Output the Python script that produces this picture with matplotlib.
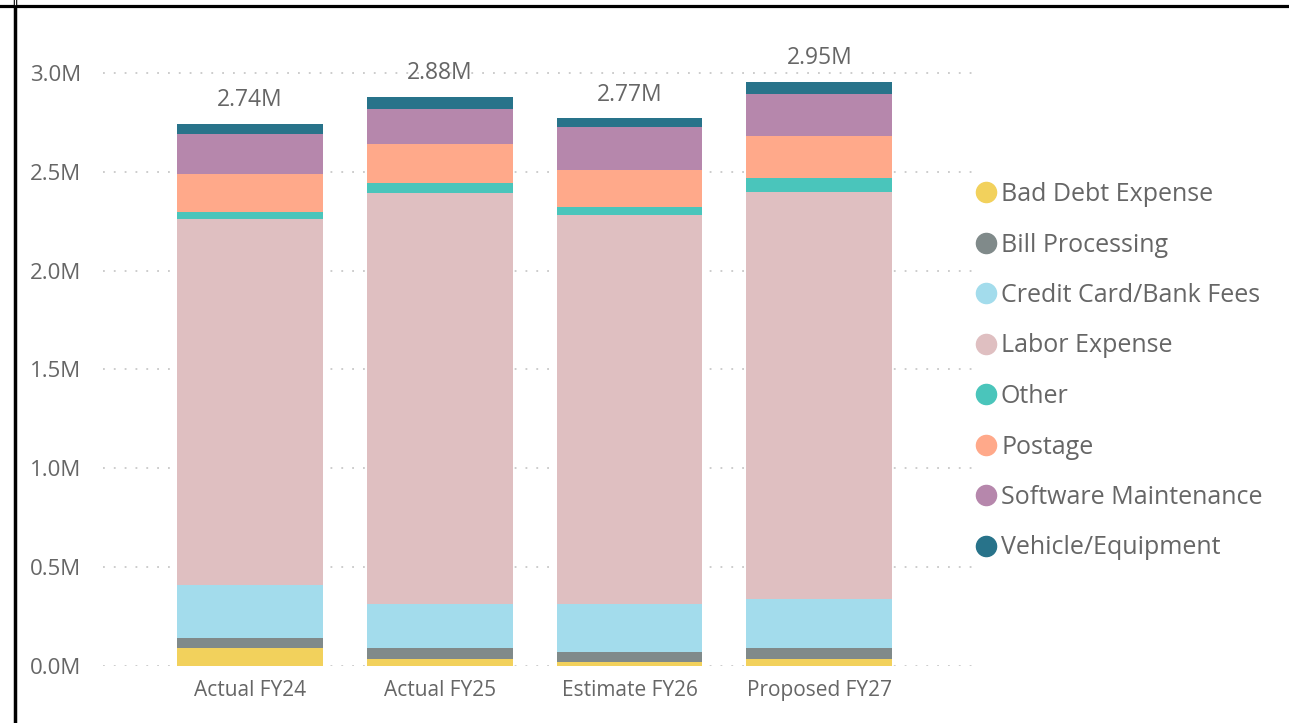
import matplotlib.pyplot as plt
from matplotlib.lines import Line2D
import numpy as np

# ---- data (millions) ----
periods = ["Actual FY24", "Actual FY25", "Estimate FY26", "Proposed FY27"]
categories = ["Bad Debt Expense", "Bill Processing", "Credit Card/Bank Fees",
              "Labor Expense", "Other", "Postage", "Software Maintenance",
              "Vehicle/Equipment"]
bad_debt = [0.091, 0.035, 0.020, 0.035]
bill_proc = [0.051, 0.056, 0.051, 0.056]
credit_card = [0.266, 0.223, 0.243, 0.246]
labor = [1.853, 2.079, 1.968, 2.061]
other = [0.036, 0.050, 0.041, 0.071]
postage = [0.192, 0.199, 0.185, 0.212]
software = [0.202, 0.176, 0.218, 0.213]
vehicle = [0.052, 0.061, 0.045, 0.060]
total_labels = ["2.74M", "2.88M", "2.77M", "2.95M"]
y_ticks = [0, 0.5, 1.0, 1.5, 2.0, 2.5, 3.0]

colors = ["#F2D15C", "#808A8A", "#A3DCEC", "#DFBFC1",
          "#4AC5BB", "#FFA98A", "#B687AC", "#28738A"]
series = [bad_debt, bill_proc, credit_card, labor, other, postage, software, vehicle]

plt.rcParams['font.family'] = ['Open Sans', 'DejaVu Sans']
TXT = "#666666"

W, H = 1289, 723
fig = plt.figure(figsize=(W / 100, H / 100), dpi=100)

# axes placed in pixel terms: x 103..975, y=0 at 666, 197.67 px per 1M
px_per_m = 197.67
ytop = 3.15
ax_bottom = 666
ax_top = ax_bottom - ytop * px_per_m
ax = fig.add_axes([103 / W, 1 - ax_bottom / H, (975 - 103) / W, (ax_bottom - ax_top) / H])

x = np.arange(len(periods))
bottom = np.zeros(len(periods))
for vals, col, name in zip(series, colors, categories):
    ax.bar(x, vals, width=0.768, bottom=bottom, color=col, label=name, zorder=3)
    bottom = bottom + np.array(vals)

for xi, tot, lab in zip(x, bottom, total_labels):
    ax.text(xi, tot + 0.12, lab, ha="center", va="center", fontsize=16.5, color=TXT)

ax.set_xlim(-0.774, 3.82)
ax.set_ylim(0, ytop)
ax.set_xticks(x)
ax.set_xticklabels(periods, fontsize=15, color=TXT)
ax.set_yticks(y_ticks)
ax.set_yticklabels([f"{v:.1f}M" for v in y_ticks], fontsize=16, color=TXT)
ax.tick_params(axis="x", length=0, pad=10)
ax.tick_params(axis="y", length=0, pad=16)
for s in ax.spines.values():
    s.set_visible(False)
ax.yaxis.grid(True, color="#C8C8C8", linestyle=(0, (1, 5)), linewidth=1.3, zorder=0)
ax.set_axisbelow(True)

handles = [Line2D([], [], marker="o", linestyle="", markersize=14.5,
                  markerfacecolor=c, markeredgecolor=c) for c in colors]
fig.legend(handles, categories, loc="upper left",
           bbox_to_anchor=(961 / W, 1 - 172 / H), frameon=False,
           fontsize=18, labelcolor=TXT, handletextpad=0.0,
           labelspacing=1.02, handlelength=1.2, borderaxespad=0)

# black frame edges
fig.add_artist(Line2D([0, 1], [1 - 5.5 / H, 1 - 5.5 / H], color="black", linewidth=2.3))
fig.add_artist(Line2D([15 / W, 15 / W], [0, 1], color="black", linewidth=2.5))
fig.add_artist(Line2D([15 / W, 15 / W], [1 - 4 / H, 1], color="white", linewidth=0.9))

fig.savefig("out.png", dpi=100, facecolor="white")
